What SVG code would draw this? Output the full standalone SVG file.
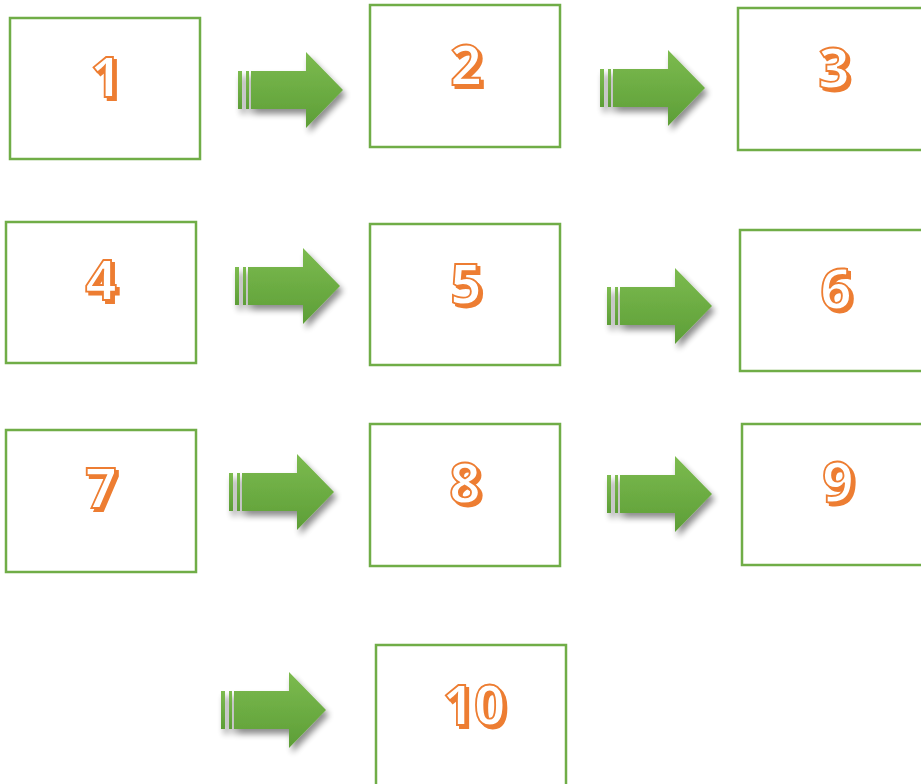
<svg xmlns="http://www.w3.org/2000/svg" xmlns:xlink="http://www.w3.org/1999/xlink" width="921" height="784" viewBox="0 0 921 784">
<defs>
<style>
.box{fill:#fff;stroke:#70ad47;stroke-width:2.5}
.lb{font-family:"Open Sans","DejaVu Sans",sans-serif;font-weight:bold;font-size:55px;fill:#fff;stroke:#ed7d31;stroke-width:1.8;text-anchor:middle;filter:url(#ts)}
.ar{fill:url(#g)}
</style>
<linearGradient id="g" x1="0" y1="0" x2="0" y2="1">
<stop offset="0" stop-color="#7cbb4f"/>
<stop offset="1" stop-color="#5d9e37"/>
</linearGradient>
<filter id="ts" x="-20%" y="-20%" width="150%" height="150%">
<feFlood flood-color="#ed7d31"/>
<feComposite operator="in" in2="SourceAlpha"/>
<feOffset dx="2.5" dy="2.5" result="s"/>
<feMerge><feMergeNode in="s"/><feMergeNode in="SourceGraphic"/></feMerge>
</filter>
<filter id="ds" x="-20%" y="-20%" width="150%" height="160%">
<feGaussianBlur in="SourceAlpha" stdDeviation="3"/>
<feOffset dx="3" dy="5" result="b"/>
<feComponentTransfer><feFuncA type="linear" slope="0.45"/></feComponentTransfer>
<feMerge><feMergeNode/><feMergeNode in="SourceGraphic"/></feMerge>
</filter>
<g id="arrow" filter="url(#ds)">
<rect class="ar" x="0" y="-19" width="4" height="38"/>
<rect class="ar" x="8" y="-19" width="3" height="38"/>
<path class="ar" d="M13,-19 H68 V-38 L105,0 L68,38 V19 H13 Z"/>
</g>
</defs>
<rect width="921" height="784" fill="#fff"/>
<g id="connectors">
<use xlink:href="#arrow" x="238" y="90"/>
<use xlink:href="#arrow" x="600" y="88"/>
<use xlink:href="#arrow" x="235" y="286"/>
<use xlink:href="#arrow" x="607" y="306"/>
<use xlink:href="#arrow" x="229" y="492"/>
<use xlink:href="#arrow" x="607" y="494"/>
<use xlink:href="#arrow" x="221" y="710"/>
</g>
<g id="n1"><rect class="box" x="10" y="18" width="190" height="141"/><text class="lb" x="106" y="97">1</text></g>
<g id="n2"><rect class="box" x="370" y="5" width="190" height="142"/><text class="lb" x="466" y="85">2</text></g>
<g id="n3"><rect class="box" x="738" y="8" width="190" height="142"/><text class="lb" x="834" y="88">3</text></g>
<g id="n4"><rect class="box" x="6" y="222" width="190" height="141"/><text class="lb" x="101" y="300">4</text></g>
<g id="n5"><rect class="box" x="370" y="224" width="190" height="141"/><text class="lb" x="466" y="304">5</text></g>
<g id="n6"><rect class="box" x="740" y="230" width="190" height="141"/><text class="lb" x="836" y="309">6</text></g>
<g id="n7"><rect class="box" x="6" y="430" width="190" height="142"/><text class="lb" x="101" y="508">7</text></g>
<g id="n8"><rect class="box" x="370" y="424" width="190" height="142"/><text class="lb" x="465" y="503">8</text></g>
<g id="n9"><rect class="box" x="742" y="424" width="190" height="141"/><text class="lb" x="838" y="502">9</text></g>
<g id="n10"><rect class="box" x="376" y="645" width="190" height="150"/><text class="lb" x="474" y="725">10</text></g>
</svg>
